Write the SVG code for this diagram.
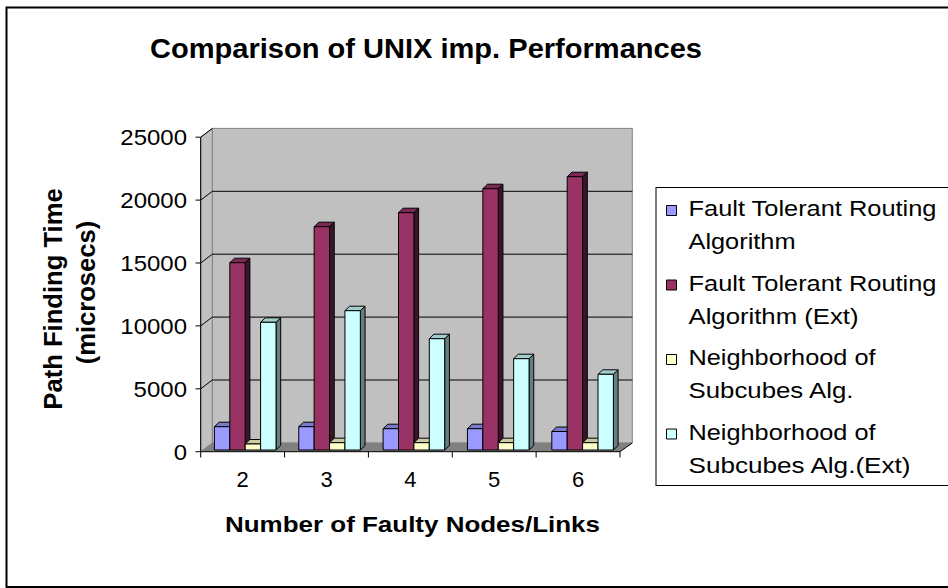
<svg xmlns="http://www.w3.org/2000/svg" width="948" height="588" viewBox="0 0 948 588">
<style>
text{font-family:"Liberation Sans",Arial,sans-serif;fill:#000}
.t{font-weight:bold}
.ax{font-size:22px}
.lg{font-size:22px}
.edge{stroke:#000;stroke-width:1;stroke-linejoin:round}
.b .fr{fill:#9999FF}.b .tp{fill:#7A7ACC}.b .sd{fill:#4D4D80}
.m .fr{fill:#993366}.m .tp{fill:#7A2952}.m .sd{fill:#3D1429}
.y .fr{fill:#FFFFCC}.y .tp{fill:#CCCCA3}.y .sd{fill:#808066}
.c .fr{fill:#CCFFFF}.c .tp{fill:#A3CCCC}.c .sd{fill:#668080}
.grid{stroke:#000;stroke-width:1}
</style>
<rect x="0" y="0" width="948" height="588" fill="#fff"/>
<rect x="6.5" y="7.5" width="960" height="579.5" fill="#fff" stroke="#000" stroke-width="2"/>

<text class="t" x="426" y="57.5" font-size="28.5" text-anchor="middle" textLength="552" lengthAdjust="spacingAndGlyphs">Comparison of UNIX imp. Performances</text>

<g id="plot-walls">
<polygon points="212.3,128.4 632.3,128.4 632.3,442.9 212.3,442.9" fill="#C0C0C0" stroke="#808080" stroke-width="1"/>
<polygon points="200.7,137.2 212.3,128.4 212.3,442.9 200.7,451.7" fill="#C0C0C0" stroke="#808080" stroke-width="1"/>
<polygon points="200.7,451.7 620,451.7 632.3,442.9 212.3,442.9" fill="#808080"/>
<line x1="620" y1="451.7" x2="632.3" y2="442.9" stroke="#000"/>
<g class="grid">
<line x1="212.3" y1="380" x2="632.3" y2="380"/>
<line x1="212.3" y1="317.1" x2="632.3" y2="317.1"/>
<line x1="212.3" y1="254.2" x2="632.3" y2="254.2"/>
<line x1="212.3" y1="191.3" x2="632.3" y2="191.3"/>
<line x1="200.7" y1="388.8" x2="212.3" y2="380"/>
<line x1="200.7" y1="325.9" x2="212.3" y2="317.1"/>
<line x1="200.7" y1="263" x2="212.3" y2="254.2"/>
<line x1="200.7" y1="200.1" x2="212.3" y2="191.3"/>
<line x1="200.7" y1="137.2" x2="212.3" y2="128.4"/>
</g>
</g>

<g id="series-bars" class="edge">
<g id="cat-2">
<g class="b" transform="translate(214.4,0)"><polygon class="sd" points="15.4,426.7 20.1,422.2 20.1,445.5 15.4,450"/><polygon class="tp" points="0,426.7 4.7,422.2 20.1,422.2 15.4,426.7"/><rect class="fr" x="0" y="426.7" width="15.4" height="23.3"/></g>
<g class="m" transform="translate(229.8,0)"><polygon class="sd" points="15.4,262.7 20.1,258.2 20.1,445.5 15.4,450"/><polygon class="tp" points="0,262.7 4.7,258.2 20.1,258.2 15.4,262.7"/><rect class="fr" x="0" y="262.7" width="15.4" height="187.3"/></g>
<g class="y" transform="translate(245.2,0)"><polygon class="sd" points="15.4,444 20.1,439.5 20.1,445.5 15.4,450"/><polygon class="tp" points="0,444 4.7,439.5 20.1,439.5 15.4,444"/><rect class="fr" x="0" y="444" width="15.4" height="6"/></g>
<g class="c" transform="translate(260.6,0)"><polygon class="sd" points="15.4,322.3 20.1,317.8 20.1,445.5 15.4,450"/><polygon class="tp" points="0,322.3 4.7,317.8 20.1,317.8 15.4,322.3"/><rect class="fr" x="0" y="322.3" width="15.4" height="127.7"/></g>
</g>
<g id="cat-3">
<g class="b" transform="translate(298.75,0)"><polygon class="sd" points="15.4,426.7 20.1,422.2 20.1,445.5 15.4,450"/><polygon class="tp" points="0,426.7 4.7,422.2 20.1,422.2 15.4,426.7"/><rect class="fr" x="0" y="426.7" width="15.4" height="23.3"/></g>
<g class="m" transform="translate(314.15,0)"><polygon class="sd" points="15.4,226.7 20.1,222.2 20.1,445.5 15.4,450"/><polygon class="tp" points="0,226.7 4.7,222.2 20.1,222.2 15.4,226.7"/><rect class="fr" x="0" y="226.7" width="15.4" height="223.3"/></g>
<g class="y" transform="translate(329.55,0)"><polygon class="sd" points="15.4,442.7 20.1,438.2 20.1,445.5 15.4,450"/><polygon class="tp" points="0,442.7 4.7,438.2 20.1,438.2 15.4,442.7"/><rect class="fr" x="0" y="442.7" width="15.4" height="7.3"/></g>
<g class="c" transform="translate(344.95,0)"><polygon class="sd" points="15.4,310.7 20.1,306.2 20.1,445.5 15.4,450"/><polygon class="tp" points="0,310.7 4.7,306.2 20.1,306.2 15.4,310.7"/><rect class="fr" x="0" y="310.7" width="15.4" height="139.3"/></g>
</g>
<g id="cat-4">
<g class="b" transform="translate(383.1,0)"><polygon class="sd" points="15.4,428.7 20.1,424.2 20.1,445.5 15.4,450"/><polygon class="tp" points="0,428.7 4.7,424.2 20.1,424.2 15.4,428.7"/><rect class="fr" x="0" y="428.7" width="15.4" height="21.3"/></g>
<g class="m" transform="translate(398.5,0)"><polygon class="sd" points="15.4,212.7 20.1,208.2 20.1,445.5 15.4,450"/><polygon class="tp" points="0,212.7 4.7,208.2 20.1,208.2 15.4,212.7"/><rect class="fr" x="0" y="212.7" width="15.4" height="237.3"/></g>
<g class="y" transform="translate(413.9,0)"><polygon class="sd" points="15.4,442.7 20.1,438.2 20.1,445.5 15.4,450"/><polygon class="tp" points="0,442.7 4.7,438.2 20.1,438.2 15.4,442.7"/><rect class="fr" x="0" y="442.7" width="15.4" height="7.3"/></g>
<g class="c" transform="translate(429.3,0)"><polygon class="sd" points="15.4,338.7 20.1,334.2 20.1,445.5 15.4,450"/><polygon class="tp" points="0,338.7 4.7,334.2 20.1,334.2 15.4,338.7"/><rect class="fr" x="0" y="338.7" width="15.4" height="111.3"/></g>
</g>
<g id="cat-5">
<g class="b" transform="translate(467.45,0)"><polygon class="sd" points="15.4,428.7 20.1,424.2 20.1,445.5 15.4,450"/><polygon class="tp" points="0,428.7 4.7,424.2 20.1,424.2 15.4,428.7"/><rect class="fr" x="0" y="428.7" width="15.4" height="21.3"/></g>
<g class="m" transform="translate(482.85,0)"><polygon class="sd" points="15.4,188.7 20.1,184.2 20.1,445.5 15.4,450"/><polygon class="tp" points="0,188.7 4.7,184.2 20.1,184.2 15.4,188.7"/><rect class="fr" x="0" y="188.7" width="15.4" height="261.3"/></g>
<g class="y" transform="translate(498.25,0)"><polygon class="sd" points="15.4,442.7 20.1,438.2 20.1,445.5 15.4,450"/><polygon class="tp" points="0,442.7 4.7,438.2 20.1,438.2 15.4,442.7"/><rect class="fr" x="0" y="442.7" width="15.4" height="7.3"/></g>
<g class="c" transform="translate(513.65,0)"><polygon class="sd" points="15.4,358.7 20.1,354.2 20.1,445.5 15.4,450"/><polygon class="tp" points="0,358.7 4.7,354.2 20.1,354.2 15.4,358.7"/><rect class="fr" x="0" y="358.7" width="15.4" height="91.3"/></g>
</g>
<g id="cat-6">
<g class="b" transform="translate(551.8,0)"><polygon class="sd" points="15.4,431.5 20.1,427 20.1,445.5 15.4,450"/><polygon class="tp" points="0,431.5 4.7,427 20.1,427 15.4,431.5"/><rect class="fr" x="0" y="431.5" width="15.4" height="18.5"/></g>
<g class="m" transform="translate(567.2,0)"><polygon class="sd" points="15.4,176.7 20.1,172.2 20.1,445.5 15.4,450"/><polygon class="tp" points="0,176.7 4.7,172.2 20.1,172.2 15.4,176.7"/><rect class="fr" x="0" y="176.7" width="15.4" height="273.3"/></g>
<g class="y" transform="translate(582.6,0)"><polygon class="sd" points="15.4,442.7 20.1,438.2 20.1,445.5 15.4,450"/><polygon class="tp" points="0,442.7 4.7,438.2 20.1,438.2 15.4,442.7"/><rect class="fr" x="0" y="442.7" width="15.4" height="7.3"/></g>
<g class="c" transform="translate(598,0)"><polygon class="sd" points="15.4,374.3 20.1,369.8 20.1,445.5 15.4,450"/><polygon class="tp" points="0,374.3 4.7,369.8 20.1,369.8 15.4,374.3"/><rect class="fr" x="0" y="374.3" width="15.4" height="75.7"/></g>
</g>
</g>

<g id="axes" stroke="#000" stroke-width="1">
<line x1="200.7" y1="137.2" x2="200.7" y2="452"/>
<line x1="200.7" y1="451.7" x2="620" y2="451.7"/>
<line x1="195.5" y1="451.7" x2="200.7" y2="451.7"/>
<line x1="195.5" y1="388.8" x2="200.7" y2="388.8"/>
<line x1="195.5" y1="325.9" x2="200.7" y2="325.9"/>
<line x1="195.5" y1="263" x2="200.7" y2="263"/>
<line x1="195.5" y1="200.1" x2="200.7" y2="200.1"/>
<line x1="195.5" y1="137.2" x2="200.7" y2="137.2"/>
<line x1="200.7" y1="451.7" x2="200.7" y2="457.5"/>
<line x1="284.56" y1="451.7" x2="284.56" y2="457.5"/>
<line x1="368.42" y1="451.7" x2="368.42" y2="457.5"/>
<line x1="452.28" y1="451.7" x2="452.28" y2="457.5"/>
<line x1="536.14" y1="451.7" x2="536.14" y2="457.5"/>
<line x1="620" y1="451.7" x2="620" y2="457.5"/>
</g>

<g id="y-labels" class="ax" text-anchor="end">
<text x="187" y="459.5" textLength="13.3" lengthAdjust="spacingAndGlyphs">0</text>
<text x="187" y="396.6" textLength="53.4" lengthAdjust="spacingAndGlyphs">5000</text>
<text x="187" y="333.7" textLength="66.7" lengthAdjust="spacingAndGlyphs">10000</text>
<text x="187" y="270.8" textLength="66.7" lengthAdjust="spacingAndGlyphs">15000</text>
<text x="187" y="207.9" textLength="66.7" lengthAdjust="spacingAndGlyphs">20000</text>
<text x="187" y="145" textLength="66.7" lengthAdjust="spacingAndGlyphs">25000</text>
</g>
<g id="x-labels" class="ax" text-anchor="middle">
<text x="242.6" y="487.3">2</text>
<text x="326.5" y="487.3">3</text>
<text x="410.4" y="487.3">4</text>
<text x="494.2" y="487.3">5</text>
<text x="578.1" y="487.3">6</text>
</g>

<g id="y-title" class="t" font-size="25.6" text-anchor="middle">
<text transform="translate(61.7,299) rotate(-90)">Path Finding Time</text>
<text transform="translate(94.5,292.5) rotate(-90)">(microsecs)</text>
</g>
<text id="x-title" class="t" x="412.5" y="532.3" font-size="22.8" text-anchor="middle" textLength="375" lengthAdjust="spacingAndGlyphs">Number of Faulty Nodes/Links</text>

<g id="legend">
<rect x="656" y="187.5" width="310" height="298" fill="#fff" stroke="#000" stroke-width="1"/>
<g class="edge">
<rect x="666.5" y="205.5" width="10" height="10" fill="#9999FF"/>
<rect x="666.5" y="280" width="10" height="10" fill="#993366"/>
<rect x="666.5" y="354.5" width="10" height="10" fill="#FFFFCC"/>
<rect x="666.5" y="429" width="10" height="10" fill="#CCFFFF"/>
</g>
<g class="lg">
<text x="688.5" y="216" textLength="248" lengthAdjust="spacingAndGlyphs">Fault Tolerant Routing</text>
<text x="688.5" y="249" textLength="107" lengthAdjust="spacingAndGlyphs">Algorithm</text>
<text x="688.5" y="290.5" textLength="248" lengthAdjust="spacingAndGlyphs">Fault Tolerant Routing</text>
<text x="688.5" y="323.5" textLength="170" lengthAdjust="spacingAndGlyphs">Algorithm (Ext)</text>
<text x="688.5" y="365" textLength="187" lengthAdjust="spacingAndGlyphs">Neighborhood of</text>
<text x="688.5" y="398" textLength="165" lengthAdjust="spacingAndGlyphs">Subcubes Alg.</text>
<text x="688.5" y="439.5" textLength="187" lengthAdjust="spacingAndGlyphs">Neighborhood of</text>
<text x="688.5" y="472.5" textLength="222" lengthAdjust="spacingAndGlyphs">Subcubes Alg.(Ext)</text>
</g>
</g>
</svg>
